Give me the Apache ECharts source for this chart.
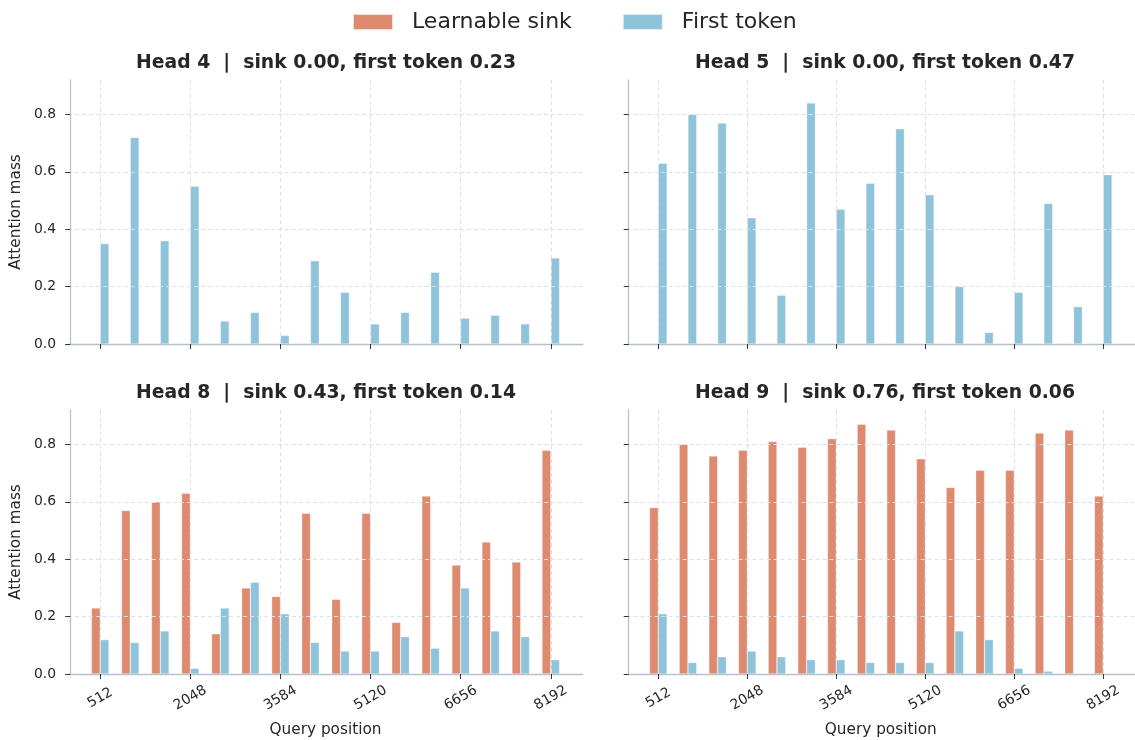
<!DOCTYPE html>
<html>
<head>
<meta charset="utf-8">
<title>Attention mass by query position</title>
<script src="https://cdn.jsdelivr.net/npm/echarts@6/dist/echarts.min.js"></script>
<style>
  html, body { margin: 0; padding: 0; background: #ffffff; }
  #main { width: 1135px; height: 740px; }
</style>
</head>
<body>
<div id="main"></div>
<script>
// query positions on the x axis, and the ones that get a label
const positions = [512, 1024, 1536, 2048, 2560, 3072, 3584, 4096, 4608, 5120, 5632, 6144, 6656, 7168, 7680, 8192];
const xTickValues = [512, 2048, 3584, 5120, 6656, 8192];
const yTickValues = [0, 0.2, 0.4, 0.6, 0.8];

const headNames = ['Head 4', 'Head 5', 'Head 8', 'Head 9'];
const sinkMeans = ['0.00', '0.00', '0.43', '0.76'];
const firstMeans = ['0.23', '0.47', '0.14', '0.06'];

// attention mass on the learnable sink
const head4Sink = [0, 0, 0, 0, 0, 0, 0, 0, 0, 0, 0, 0, 0, 0, 0, 0];
const head5Sink = [0, 0, 0, 0, 0, 0, 0, 0, 0, 0, 0, 0, 0, 0, 0, 0];
const head8Sink = [0.23, 0.57, 0.60, 0.63, 0.14, 0.30, 0.27, 0.56, 0.26, 0.56, 0.18, 0.62, 0.38, 0.46, 0.39, 0.78];
const head9Sink = [0.58, 0.80, 0.76, 0.78, 0.81, 0.79, 0.82, 0.87, 0.85, 0.75, 0.65, 0.71, 0.71, 0.84, 0.85, 0.62];

// attention mass on the first token
const head4First = [0.35, 0.72, 0.36, 0.55, 0.08, 0.11, 0.03, 0.29, 0.18, 0.07, 0.11, 0.25, 0.09, 0.10, 0.07, 0.30];
const head5First = [0.63, 0.80, 0.77, 0.44, 0.17, 0.84, 0.47, 0.56, 0.75, 0.52, 0.20, 0.04, 0.18, 0.49, 0.13, 0.59];
const head8First = [0.12, 0.11, 0.15, 0.02, 0.23, 0.32, 0.21, 0.11, 0.08, 0.08, 0.13, 0.09, 0.30, 0.15, 0.13, 0.05];
const head9First = [0.21, 0.04, 0.06, 0.08, 0.06, 0.05, 0.05, 0.04, 0.04, 0.04, 0.15, 0.12, 0.02, 0.01, 0.00, 0.00];

const sinkData = [head4Sink, head5Sink, head8Sink, head9Sink];
const firstData = [head4First, head5First, head8First, head9First];

const SINK_COLOR = '#de8a6f';
const FIRST_COLOR = '#8ec3da';
const TEXT_COLOR = '#262626';
const FONT = 'DejaVu Sans';

// panel placement: 2x2
const lefts = [68, 626.5, 68, 626.5];
const tops = [80, 80, 410, 410];
const centers = [321, 880, 321, 880];

const grids = [], xAxes = [], yAxes = [], titles = [], series = [];

const gridLine = {
    show: true,
    lineStyle: { color: '#d9e2ec', width: 1, type: [4, 3] }
};

for (let i = 0; i < 4; i++) {
    const bottomRow = i >= 2;
    const leftCol = i % 2 === 0;

    grids.push({ left: lefts[i], top: tops[i], width: 515, height: 264 });

    titles.push({
        text: headNames[i] + '  |  sink ' + sinkMeans[i] + ', first token ' + firstMeans[i],
        left: centers[i],
        top: bottomRow ? 379 : 49,
        textAlign: 'center',
        textStyle: { fontFamily: FONT, fontSize: 18.8, fontWeight: 'bold', color: TEXT_COLOR }
    });

    xAxes.push({
        type: 'value',
        gridIndex: i,
        min: -37,
        max: 8741,
        z: 3,
        name: bottomRow ? 'Query position' : '',
        nameLocation: 'middle',
        nameGap: 49,
        nameTextStyle: { fontFamily: FONT, fontSize: 15.3, color: TEXT_COLOR },
        axisLine: { lineStyle: { color: '#b7c1cb', width: 1.3 } },
        axisTick: { customValues: xTickValues, length: 5, lineStyle: { color: '#333333', width: 1 } },
        axisLabel: {
            show: bottomRow,
            customValues: xTickValues,
            rotate: 30,
            align: 'center',
            verticalAlign: 'middle',
            margin: 24,
            formatter: v => String(v),
            fontFamily: FONT,
            fontSize: 13.9,
            color: TEXT_COLOR
        },
        splitLine: gridLine
    });

    yAxes.push({
        type: 'value',
        gridIndex: i,
        min: 0,
        max: 0.92,
        z: 3,
        name: leftCol ? 'Attention mass' : '',
        nameLocation: 'middle',
        nameGap: 44,
        nameTextStyle: { fontFamily: FONT, fontSize: 15.3, color: TEXT_COLOR },
        axisLine: { show: true, lineStyle: { color: '#b7c1cb', width: 1.3 } },
        axisTick: { show: true, customValues: yTickValues, length: 5, lineStyle: { color: '#333333', width: 1 } },
        axisLabel: {
            show: leftCol,
            customValues: yTickValues,
            margin: 12,
            formatter: v => v.toFixed(1),
            fontFamily: FONT,
            fontSize: 13.9,
            color: TEXT_COLOR
        },
        splitLine: gridLine
    });

    series.push({
        name: 'Learnable sink',
        type: 'bar',
        xAxisIndex: i,
        yAxisIndex: i,
        barWidth: 8.8,
        barGap: '0%',
        z: 1,
        itemStyle: { color: SINK_COLOR, borderColor: 'rgba(255,255,255,0.7)', borderWidth: 0.5 },
        data: positions.map((p, k) => [p, sinkData[i][k]])
    });
    series.push({
        name: 'First token',
        type: 'bar',
        xAxisIndex: i,
        yAxisIndex: i,
        barWidth: 8.8,
        barGap: '0%',
        z: 1,
        itemStyle: { color: FIRST_COLOR, borderColor: 'rgba(255,255,255,0.7)', borderWidth: 0.5 },
        data: positions.map((p, k) => [p, firstData[i][k]])
    });
}

const chart = echarts.init(document.getElementById('main'), null, { renderer: 'canvas' });
chart.setOption({
    backgroundColor: '#ffffff',
    animation: false,
    title: titles,
    legend: {
        data: ['Learnable sink', 'First token'],
        left: 347,
        top: 6,
        icon: 'rect',
        itemWidth: 40,
        itemHeight: 16,
        itemGap: 50,
        textStyle: { fontFamily: FONT, fontSize: 22, color: TEXT_COLOR, padding: [0, 0, 0, 14] }
    },
    grid: grids,
    xAxis: xAxes,
    yAxis: yAxes,
    series: series
});
</script>
</body>
</html>
